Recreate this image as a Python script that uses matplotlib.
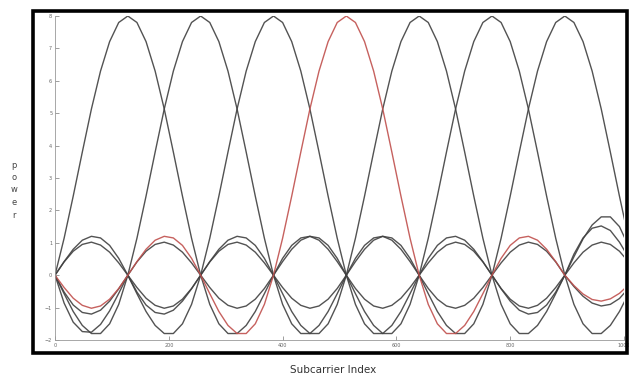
import numpy as np
import matplotlib
matplotlib.use("Agg")
import matplotlib.pyplot as plt
from matplotlib.patches import Rectangle

# sample grid along the subcarrier axis (one point every 16 bins)
bins = np.arange(0, 1025, 16)

# power for each of the 7 subcarriers
sub1 = [0, 1.14, 2.44, 3.80, 5.13, 6.30, 7.21, 7.80, 8, 7.80, 7.21, 6.30, 5.13, 3.80, 2.44, 1.14,
        0, -0.90, -1.50, -1.80, -1.80, -1.55, -1.12, -0.57,
        0, 0.52, 0.92, 1.15, 1.20, 1.08, 0.80, 0.42,
        0, -0.41, -0.74, -0.95, -1.02, -0.93, -0.71, -0.38,
        0, 0.38, 0.71, 0.93, 1.02, 0.95, 0.74, 0.41,
        0, -0.42, -0.80, -1.08, -1.20, -1.15, -0.92, -0.52,
        0, 0.57, 1.12, 1.55, 1.80, 1.80, 1.50, 0.90, 0]
sub2 = [0, -0.57, -1.12, -1.55, -1.80, -1.80, -1.50, -0.90,
        0, 1.14, 2.44, 3.80, 5.13, 6.30, 7.21, 7.80, 8, 7.80, 7.21, 6.30, 5.13, 3.80, 2.44, 1.14,
        0, -0.90, -1.50, -1.80, -1.80, -1.55, -1.12, -0.57,
        0, 0.52, 0.92, 1.15, 1.20, 1.08, 0.80, 0.42,
        0, -0.41, -0.74, -0.95, -1.02, -0.93, -0.71, -0.38,
        0, 0.38, 0.71, 0.93, 1.02, 0.95, 0.74, 0.41,
        0, -0.35, -0.65, -0.86, -0.95, -0.90, -0.72, -0.40, 0]
sub3 = [0, 0.42, 0.80, 1.08, 1.20, 1.15, 0.92, 0.52,
        0, -0.57, -1.12, -1.55, -1.80, -1.80, -1.50, -0.90,
        0, 1.14, 2.44, 3.80, 5.13, 6.30, 7.21, 7.80, 8, 7.80, 7.21, 6.30, 5.13, 3.80, 2.44, 1.14,
        0, -0.90, -1.50, -1.80, -1.80, -1.55, -1.12, -0.57,
        0, 0.52, 0.92, 1.15, 1.20, 1.08, 0.80, 0.42,
        0, -0.41, -0.74, -0.95, -1.02, -0.93, -0.71, -0.38,
        0, 0.38, 0.71, 0.93, 1.02, 0.95, 0.74, 0.41, 0]
sub4 = [0, -0.38, -0.71, -0.93, -1.02, -0.95, -0.74, -0.41,
        0, 0.42, 0.80, 1.08, 1.20, 1.15, 0.92, 0.52,
        0, -0.57, -1.12, -1.55, -1.80, -1.80, -1.50, -0.90,
        0, 1.14, 2.44, 3.80, 5.13, 6.30, 7.21, 7.80, 8, 7.80, 7.21, 6.30, 5.13, 3.80, 2.44, 1.14,
        0, -0.90, -1.50, -1.80, -1.80, -1.55, -1.12, -0.57,
        0, 0.52, 0.92, 1.15, 1.20, 1.08, 0.80, 0.42,
        0, -0.32, -0.58, -0.75, -0.80, -0.73, -0.56, -0.30, 0]
sub5 = [0, 0.41, 0.74, 0.95, 1.02, 0.93, 0.71, 0.38,
        0, -0.38, -0.71, -0.93, -1.02, -0.95, -0.74, -0.41,
        0, 0.42, 0.80, 1.08, 1.20, 1.15, 0.92, 0.52,
        0, -0.57, -1.12, -1.55, -1.80, -1.80, -1.50, -0.90,
        0, 1.14, 2.44, 3.80, 5.13, 6.30, 7.21, 7.80, 8, 7.80, 7.21, 6.30, 5.13, 3.80, 2.44, 1.14,
        0, -0.90, -1.50, -1.80, -1.80, -1.55, -1.12, -0.57,
        0, 0.65, 1.15, 1.45, 1.52, 1.38, 1.02, 0.55, 0]
sub6 = [0, -0.52, -0.92, -1.15, -1.20, -1.08, -0.80, -0.42,
        0, 0.41, 0.74, 0.95, 1.02, 0.93, 0.71, 0.38,
        0, -0.38, -0.71, -0.93, -1.02, -0.95, -0.74, -0.41,
        0, 0.42, 0.80, 1.08, 1.20, 1.15, 0.92, 0.52,
        0, -0.57, -1.12, -1.55, -1.80, -1.80, -1.50, -0.90,
        0, 1.14, 2.44, 3.80, 5.13, 6.30, 7.21, 7.80, 8, 7.80, 7.21, 6.30, 5.13, 3.80, 2.44, 1.14,
        0, -0.90, -1.50, -1.80, -1.80, -1.55, -1.12, -0.57, 0]
sub7 = [0, -0.86, -1.45, -1.74, -1.76, -1.52, -1.10, -0.56,
        0, -0.52, -0.92, -1.15, -1.20, -1.08, -0.80, -0.42,
        0, 0.41, 0.74, 0.95, 1.02, 0.93, 0.71, 0.38,
        0, -0.38, -0.71, -0.93, -1.02, -0.95, -0.74, -0.41,
        0, 0.42, 0.80, 1.08, 1.20, 1.15, 0.92, 0.52,
        0, -0.57, -1.12, -1.55, -1.80, -1.80, -1.50, -0.90,
        0, 1.14, 2.44, 3.80, 5.13, 6.30, 7.21, 7.80, 8, 7.80, 7.21, 6.30, 5.13, 3.80, 2.44, 1.14, 0]

subcarriers = [sub1, sub2, sub3, sub5, sub6, sub7, sub4]   # red one drawn last
colors = ['#404040'] * 6 + ['#c0504d']

x_ticks = [0, 200, 400, 600, 800, 1000]
y_ticks = [-2, -1, 0, 1, 2, 3, 4, 5, 6, 7, 8]

fig = plt.figure(figsize=(6.29, 3.83), dpi=100)
ax = fig.add_axes([55 / 629, 43 / 383, 569 / 629, 324 / 383])

for vals, col in zip(subcarriers, colors):
    ax.plot(bins, vals, color=col, lw=1.0, alpha=0.9, solid_joinstyle='round')

ax.set_xlim(0, 1000)
ax.set_ylim(-2, 8)
ax.set_xticks(x_ticks)
ax.set_yticks(y_ticks)
ax.tick_params(direction='in', length=3, width=0.5, colors='#777777',
               labelsize=3.5, labelcolor='#666666', pad=2)
for side in ['top', 'right']:
    ax.spines[side].set_visible(False)
for side in ['left', 'bottom']:
    ax.spines[side].set_color('#999999')
    ax.spines[side].set_linewidth(0.6)

# thick black frame round the plot
fig.patches.append(Rectangle((33 / 629, 30 / 383), 594 / 629, 342 / 383,
                             transform=fig.transFigure, fill=False,
                             edgecolor='black', linewidth=2.6, zorder=10))

fig.text(0.53, 13 / 383, 'Subcarrier Index', ha='center', va='center',
         fontsize=7.5, color='#333333')
fig.text(14 / 629, 1 - 190 / 383, 'p\no\nw\ne\nr', ha='center', va='center',
         fontsize=6, color='#444444', linespacing=1.5)

fig.savefig('out.png', dpi=100)
